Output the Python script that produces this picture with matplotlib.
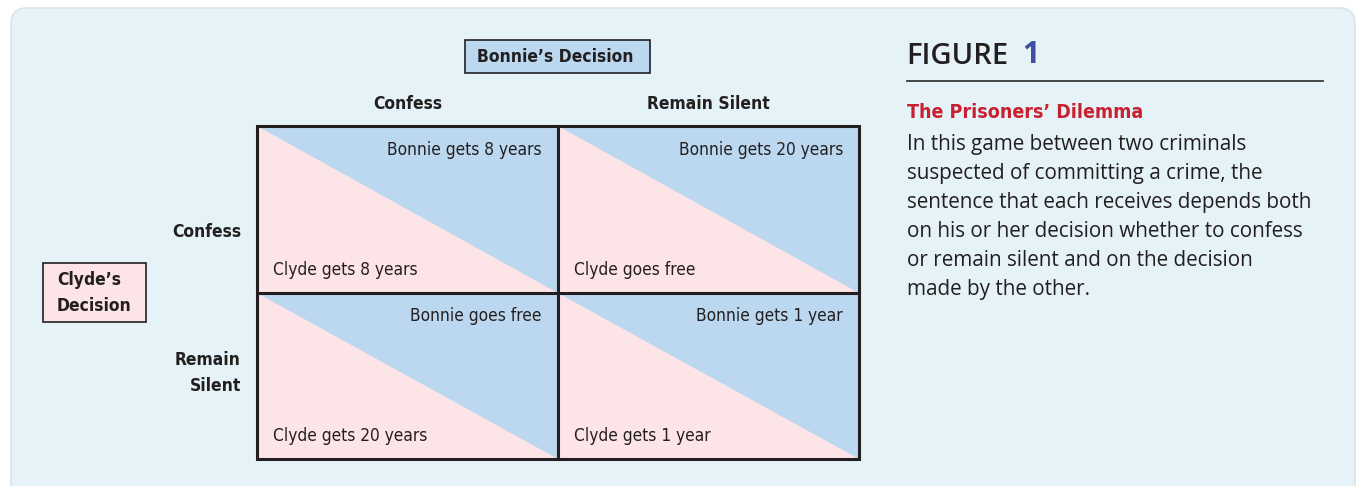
import matplotlib
matplotlib.use('Agg')
import matplotlib.pyplot as plt
from matplotlib.patches import Rectangle, Polygon, FancyBboxPatch

# payoff matrix: rows = Clyde's decision, columns = Bonnie's decision
col_labels = ['Confess', 'Remain Silent']
row_labels = ['Confess', 'Remain\nSilent']
bonnie_out = [['Bonnie gets 8 years', 'Bonnie gets 20 years'],
              ['Bonnie goes free', 'Bonnie gets 1 year']]
clyde_out  = [['Clyde gets 8 years', 'Clyde goes free'],
              ['Clyde gets 20 years', 'Clyde gets 1 year']]

fig_title   = 'FIGURE'
fig_number  = '1'
caption_head = 'The Prisoners\u2019 Dilemma'
caption_lines = ['In this game between two criminals',
                 'suspected of committing a crime, the',
                 'sentence that each receives depends both',
                 'on his or her decision whether to confess',
                 'or remain silent and on the decision',
                 'made by the other.']

BG    = '#E5F3F9'
BLUE  = '#BBD8F0'
PINK  = '#FDE4E6'
INK   = '#231F20'
RED   = '#C8202F'
NAVY  = '#3F4EA1'
NARROW = ['DejaVu Sans']
BODY   = ['Open Sans', 'DejaVu Sans']
NKW = dict(family=NARROW, fontstretch='condensed', color=INK)


def draw():
  fig = plt.figure(figsize=(13.61, 4.86), dpi=100)
  ax = fig.add_axes([0, 0, 1, 1])
  ax.set_xlim(0, 1361)
  ax.set_ylim(486, 0)
  ax.axis('off')

  ax.add_patch(FancyBboxPatch((11, 8), 1344, 520, boxstyle='round,pad=0,rounding_size=16',
                              fc=BG, ec='#D9E3E8', lw=1.2))

  x0, y0, cw, ch = 257, 126, 301, 166.5
  for i in range(len(row_labels)):
    for j in range(len(col_labels)):
      left, top = x0 + j * cw, y0 + i * ch
      ax.add_patch(Rectangle((left, top), cw, ch, fc=PINK, ec='none'))
      ax.add_patch(Polygon([(left, top), (left + cw, top), (left + cw, top + ch)],
                           closed=True, fc=BLUE, ec='none'))
      ax.text(left + cw - 16, top + 23.5, bonnie_out[i][j], ha='right', va='center',
              fontsize=12.4, **NKW)
      ax.text(left + 16, top + 143.5, clyde_out[i][j], ha='left', va='center',
              fontsize=12.4, **NKW)

  nr, nc = len(row_labels), len(col_labels)
  ax.add_patch(Rectangle((x0, y0), nc * cw, nr * ch, fc='none', ec=INK, lw=2.2))
  for j in range(1, nc):
    ax.plot([x0 + j * cw] * 2, [y0, y0 + nr * ch], color=INK, lw=2.2)
  for i in range(1, nr):
    ax.plot([x0, x0 + nc * cw] , [y0 + i * ch] * 2, color=INK, lw=2.2)

  for j, lab in enumerate(col_labels):
    ax.text(x0 + (j + 0.5) * cw, 104, lab, ha='center', va='center', fontsize=12.5,
            fontweight='bold', **NKW)
  row_y = [232, 373]
  for i, lab in enumerate(row_labels):
    ax.text(241, row_y[i], lab, ha='right', va='center', fontsize=12.5, fontweight='bold',
            linespacing=1.6, multialignment='right', **NKW)

  ax.add_patch(Rectangle((465, 40), 185, 33, fc=BLUE, ec=INK, lw=1.2))
  ax.text(477, 57, 'Bonnie\u2019s Decision', ha='left', va='center', fontsize=12.5,
          fontweight='bold', **NKW)
  ax.add_patch(Rectangle((43, 263), 103, 59, fc=PINK, ec=INK, lw=1.2))
  ax.text(57, 293, 'Clyde\u2019s\nDecision', ha='left', va='center', fontsize=12.5,
          fontweight='bold', linespacing=1.55, **NKW)

  ax.text(906, 57, fig_title, ha='left', va='center', fontsize=21, family=BODY,
          fontweight='semibold', color=INK)
  ax.text(1022, 55, fig_number, ha='left', va='center', fontsize=22, family=BODY,
          fontweight='bold', color=NAVY)
  ax.plot([907, 1323], [81, 81], color='#3A3A3A', lw=1.3)
  ax.text(907, 112, caption_head, ha='left', va='center', fontsize=14,
          fontweight='bold', family=NARROW, fontstretch='condensed', color=RED)
  for k, line in enumerate(caption_lines):
    ax.text(907, 144 + k * 29.0, line, ha='left', va='center', fontsize=14.9,
            family=BODY, color=INK)
  return fig


if __name__ == '__main__':
  fig = draw()
  fig.savefig('out.png', dpi=100, facecolor='white')
